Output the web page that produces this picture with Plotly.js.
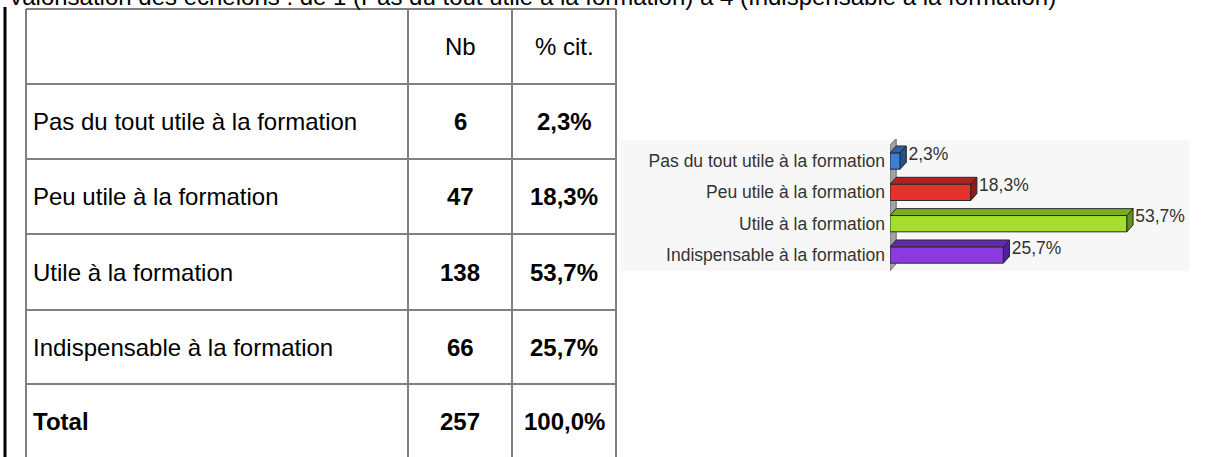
<!DOCTYPE html>
<html>
<head>
<meta charset="utf-8">
<script src="https://cdn.plot.ly/plotly-3.0.1.min.js"></script>
<style>
  html, body { margin: 0; padding: 0; background: #fff; }
  #chart { width: 1214px; height: 457px; }
</style>
</head>
<body>
<div id="chart"></div>
<script>
// ---------------- DATA ----------------
const titleText = 'Valorisation des échelons : de 1 (Pas du tout utile à la formation) à 4 (Indispensable à la formation)';
const headers = ['', 'Nb', '% cit.'];
const categories = ['Pas du tout utile à la formation', 'Peu utile à la formation', 'Utile à la formation', 'Indispensable à la formation'];
const counts = [6, 47, 138, 66];
const percents = [2.3, 18.3, 53.7, 25.7];
const pctLabels = ['2,3%', '18,3%', '53,7%', '25,7%'];
const totalLabel = 'Total';
const totalCount = 257;
const totalPct = '100,0%';

// ---------------- STYLE ----------------
const W = 1214, H = 457;
const FONT = 'Liberation Sans, Arial, sans-serif';
const frontColors = ['#3a80d6', '#e5302b', '#a6de2e', '#8a3ade'];
const topColors   = ['#2c62aa', '#ad2320', '#7bad22', '#5e2ca6'];
const sideColors  = ['#24508e', '#8c1b1a', '#658f1c', '#4c2390'];
const px = v => v / W;
const py = v => 1 - v / H;

// table geometry (layout)
const colEdges = [26, 408, 512, 616];
const rowEdges = [9, 84, 159, 234, 310, 384, 459];
const tableLine = { color: '#808080', width: 2 };

const shapes = [];
const annotations = [];

// chart background panel
shapes.push({ type: 'rect', xref: 'paper', yref: 'paper', x0: px(621), x1: px(1189), y0: py(271), y1: py(140),
  fillcolor: '#f7f7f7', line: { width: 0 }, layer: 'below' });

// left black rule
shapes.push({ type: 'line', xref: 'paper', yref: 'paper', x0: px(5), x1: px(5), y0: py(7), y1: py(460),
  line: { color: '#000', width: 3 } });

// table grid
colEdges.forEach(x => shapes.push({ type: 'line', xref: 'paper', yref: 'paper', x0: px(x), x1: px(x),
  y0: py(rowEdges[0]), y1: py(rowEdges[rowEdges.length - 1]), line: tableLine }));
rowEdges.slice(0, -1).forEach(y => shapes.push({ type: 'line', xref: 'paper', yref: 'paper',
  x0: px(colEdges[0]), x1: px(colEdges[3]), y0: py(y), y1: py(y), line: tableLine }));

// title (partially cut at the top, as in the reference)
annotations.push({ text: titleText, xref: 'paper', yref: 'paper', x: px(6), y: py(12),
  xanchor: 'left', yanchor: 'bottom', showarrow: false, font: { family: FONT, size: 24, color: '#000' } });

const TFS = 24;
const colCenters = [0, (colEdges[1] + colEdges[2]) / 2, (colEdges[2] + colEdges[3]) / 2];
function cell(text, row, col, bold) {
  const yc = (rowEdges[row] + rowEdges[row + 1]) / 2;
  const t = bold ? '<b>' + text + '</b>' : String(text);
  if (col === 0) {
    annotations.push({ text: t, xref: 'paper', yref: 'paper', x: px(colEdges[0] + 5), y: py(yc),
      xanchor: 'left', yanchor: 'middle', showarrow: false, font: { family: FONT, size: TFS, color: '#000' } });
  } else {
    annotations.push({ text: t, xref: 'paper', yref: 'paper', x: px(colCenters[col]), y: py(yc),
      xanchor: 'center', yanchor: 'middle', showarrow: false, font: { family: FONT, size: TFS, color: '#000' } });
  }
}
headers.forEach((h, c) => { if (h) cell(h, 0, c, false); });
categories.forEach((cat, i) => {
  cell(cat, i + 1, 0, false);
  cell(counts[i], i + 1, 1, true);
  cell(pctLabels[i], i + 1, 2, true);
});
cell(totalLabel, 5, 0, true);
cell(totalCount, 5, 1, true);
cell(totalPct, 5, 2, true);

// ---------------- 3D BAR CHART ----------------
const idx = categories.map((_, i) => i);
const BW = 0.52;      // bar thickness (category units)
const DX = 1.4;       // depth offset in x (percent units)
const DZ = 0.22;      // depth offset in y (category units, upward)

// axis wall (drawn below traces)
shapes.push({ type: 'path', xref: 'x', yref: 'y', layer: 'below',
  path: `M 0,${3 + 0.5} L ${DX},${3 + 0.5 - DZ} L ${DX},${-0.5 - DZ} L 0,${-0.5} Z`,
  fillcolor: '#a3a3a3', line: { color: '#6a6a6a', width: 1 } });

const traces = [];
traces.push({
  type: 'bar', orientation: 'h', x: percents, y: idx, width: BW,
  marker: { color: frontColors, line: { color: '#2a2a2a', width: 1 } },
  hoverinfo: 'skip', showlegend: false, xaxis: 'x', yaxis: 'y'
});
percents.forEach((v, i) => {
  const yt = i - BW / 2, yb = i + BW / 2;
  traces.push({ type: 'scatter', mode: 'lines', x: [0, v, v + DX, DX, 0], y: [yt, yt, yt - DZ, yt - DZ, yt],
    fill: 'toself', fillcolor: topColors[i], line: { color: '#2a2a2a', width: 1 },
    hoverinfo: 'skip', showlegend: false });
  traces.push({ type: 'scatter', mode: 'lines', x: [v, v + DX, v + DX, v, v], y: [yt, yt - DZ, yb - DZ, yb, yt],
    fill: 'toself', fillcolor: sideColors[i], line: { color: '#2a2a2a', width: 1 },
    hoverinfo: 'skip', showlegend: false });
});
traces.push({ type: 'scatter', mode: 'text', x: percents.map(v => v + DX + 0.5), y: idx.map(i => i - 0.18),
  text: pctLabels, textposition: 'middle right', textfont: { family: FONT, size: 17.5, color: '#333' },
  hoverinfo: 'skip', showlegend: false });

const layout = {
  width: W, height: H,
  margin: { l: 0, r: 0, t: 0, b: 0 },
  paper_bgcolor: 'rgba(0,0,0,0)', plot_bgcolor: 'rgba(0,0,0,0)',
  showlegend: false,
  xaxis: { domain: [px(890), px(1190)], range: [0, 68], visible: false, fixedrange: true },
  yaxis: { domain: [py(273.8), py(139.1)], range: [3.6, -0.7], tickvals: idx, ticktext: categories,
    ticks: '', showgrid: false, zeroline: false, showline: false, ticklabelstandoff: 4,
    tickfont: { family: FONT, size: 17.5, color: '#333' }, fixedrange: true },
  shapes: shapes,
  annotations: annotations
};

Plotly.newPlot('chart', traces, layout, { displayModeBar: false, staticPlot: true });
</script>
</body>
</html>
